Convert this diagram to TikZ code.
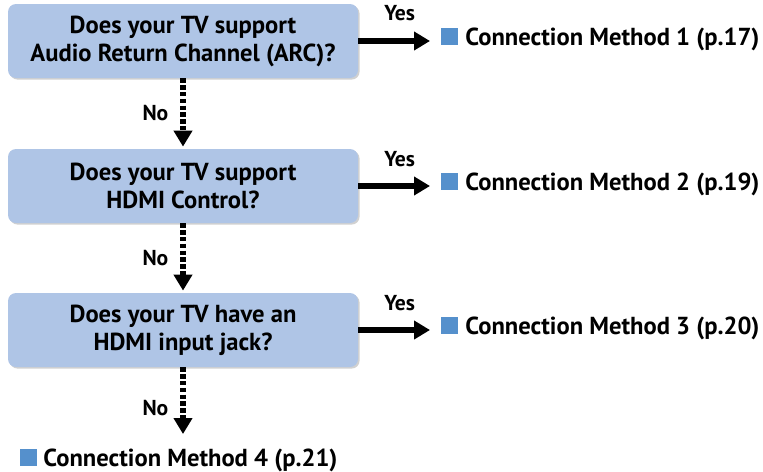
\documentclass[tikz,border=0pt]{standalone}
\usepackage{fontspec}
\setmainfont{PT Sans}
\usetikzlibrary{arrows.meta,shadows}
\definecolor{boxblue}{HTML}{AFC5E6}
\definecolor{markblue}{HTML}{5590CC}
\tikzset{
  question/.style={fill=boxblue, rounded corners=4pt, minimum width=175pt, minimum height=37pt,
    align=center, inner sep=0pt, font=\fontsize{12.3}{14}\selectfont\bfseries,
    drop shadow={shadow xshift=0.8pt, shadow yshift=-0.8pt, fill=black!18, opacity=1}},
  marker/.style={fill=markblue, minimum size=8.5pt, inner sep=0pt, anchor=south west},
  method/.style={font=\fontsize{12.3}{14}\selectfont\bfseries, anchor=base west, inner sep=0pt},
  answer/.style={font=\fontsize{10.8}{12}\selectfont\bfseries, inner sep=0pt},
  yesarrow/.style={line width=2.7pt, -{Triangle[width=9pt,length=8pt]}},
  noarrow/.style={yesarrow, dash pattern=on 2.2pt off 1.2pt},
}
\begin{document}
\begin{tikzpicture}[x=0.5pt, y=-0.5pt]
\useasboundingbox (0,0) rectangle (763,471);

%questions
\node[question] (q1) at (183,41) {Does your TV support\\Audio Return Channel (ARC)?};
\node[question] (q2) at (183,186) {Does your TV support\\HDMI Control?};
\node[question] (q3) at (183,330) {Does your TV have an\\HDMI input jack?};

%methods
\node[marker] (s1) at (441,45) {};
\node[method] (m1) at (465,45) {Connection Method 1 (p.17)};
\node[marker] (s2) at (441,190) {};
\node[method] (m2) at (465,190) {Connection Method 2 (p.19)};
\node[marker] (s3) at (441,334) {};
\node[method] (m3) at (465,334) {Connection Method 3 (p.20)};
\node[marker] (s4) at (20,466) {};
\node[method] (m4) at (43,466) {Connection Method 4 (p.21)};

%yes
\draw[yesarrow, shorten >=5.5pt] (q1.east) -- (q1.east -| s1.west)
  node[answer, midway, above=8.5pt] (y1) {Yes};
\draw[yesarrow, shorten >=5.5pt] (q2.east) -- (q2.east -| s2.west)
  node[answer, midway, above=8.5pt] (y2) {Yes};
\draw[yesarrow, shorten >=5.5pt] (q3.east) -- (q3.east -| s3.west)
  node[answer, midway, above=8.5pt] (y3) {Yes};

%no
\draw[noarrow, shorten >=1pt] (q1.south) -- (q2.north)
  node[answer, midway, left=6pt] (n1) {No};
\draw[noarrow, shorten >=1pt] (q2.south) -- (q3.north)
  node[answer, midway, left=6pt] (n2) {No};
\draw[noarrow, shorten >=7pt] (q3.south) -- (q3.south |- m4.north)
  node[answer, midway, left=6pt] (n3) {No};
\end{tikzpicture}
\end{document}
